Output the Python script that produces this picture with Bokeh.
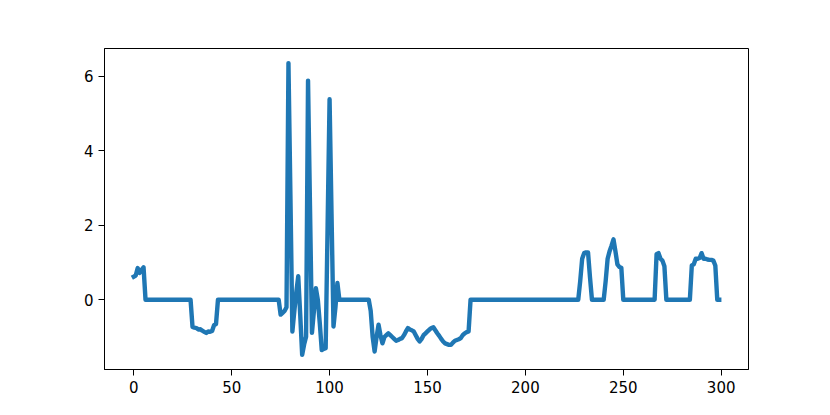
import numpy as np
from bokeh.plotting import figure
from bokeh.models import Range1d, FixedTicker
from bokeh.embed import file_html
from bokeh.resources import INLINE

# series values, one per x index 0..299
seg_start = [0.62, 0.65, 0.85, 0.72, 0.80, 0.87]
seg_dip1 = [-0.73, -0.75, -0.76, -0.80, -0.79, -0.83, -0.86, -0.89, -0.85, -0.86, -0.84, -0.68, -0.65]
seg_spikes = [-0.40, -0.35, -0.30, -0.20, 6.35, 2.80, -0.85, -0.30, 0.20, 0.63,
              -0.40, -1.48, -1.20, -0.99, 5.88, 2.50, -0.89, -0.30, 0.31, 0.00,
              -0.63, -1.35, -1.32, -1.30, 2.00, 5.38, 2.30, -0.72, -0.20, 0.45]
seg_dip2 = [-0.30, -1.00, -1.39, -1.00, -0.67, -0.95, -1.17, -1.00, -0.95, -0.90,
            -0.95, -1.00, -1.05, -1.10, -1.08, -1.05, -1.03, -0.95, -0.85, -0.76,
            -0.80, -0.82, -0.85, -0.95, -1.05, -1.12, -1.05, -0.95, -0.90, -0.85,
            -0.80, -0.76, -0.74, -0.82, -0.90, -0.97, -1.05, -1.12, -1.17, -1.19,
            -1.21, -1.21, -1.15, -1.10, -1.08, -1.06, -1.03, -0.95, -0.90, -0.87, -0.85]
seg_bump1 = [0.50, 1.10, 1.25, 1.27, 1.27, 0.60]
seg_bump2 = [0.50, 1.10, 1.30, 1.45, 1.62, 1.30, 0.95, 0.88, 0.86]
seg_bump3 = [1.22, 1.25, 1.10, 1.05, 0.90]
seg_bump4 = [0.92, 0.95, 1.10, 1.10, 1.12, 1.25, 1.10, 1.10, 1.08, 1.07, 1.07, 1.05, 0.92, 0.00, 0.00]

values = (seg_start + [0.0] * 24 + seg_dip1 + [0.0] * 32 + seg_spikes + [0.0] * 16
          + seg_dip2 + [0.0] * 56 + seg_bump1 + [0.0] * 7 + seg_bump2 + [0.0] * 17
          + seg_bump3 + [0.0] * 13 + seg_bump4)
x_vals = list(range(len(values)))

x_ticks = [0, 50, 100, 150, 200, 250, 300]
y_ticks = [0, 2, 4, 6]

xmin, xmax = min(x_vals), max(x_vals)
ymin, ymax = min(values), max(values)
mx = 0.05 * (xmax - xmin)
my = 0.05 * (ymax - ymin)

p = figure(width=814, height=399, output_backend="svg", toolbar_location=None,
           x_range=Range1d(xmin - mx, xmax + mx), y_range=Range1d(ymin - my, ymax + my))
p.min_border_left = 104
p.min_border_right = 66
p.min_border_top = 48
p.min_border_bottom = 30
p.background_fill_color = "white"
p.border_fill_color = "white"
p.outline_line_color = "black"
p.outline_line_width = 1
p.xgrid.visible = False
p.ygrid.visible = False

p.line(x_vals, values, line_color="#1f77b4", line_width=4.4, line_join="round", line_cap="square")

for ax, ticks in ((p.xaxis[0], x_ticks), (p.yaxis[0], y_ticks)):
    ax.ticker = FixedTicker(ticks=ticks)
    ax.minor_tick_line_color = None
    ax.major_tick_in = 0
    ax.major_tick_out = 6
    ax.major_tick_line_color = "black"
    ax.axis_line_color = "black"
    ax.major_label_text_font = "DejaVu Sans"
    ax.major_label_text_font_size = "15px"
    ax.major_label_text_color = "black"
    ax.major_label_standoff = 5

open("out.html", "w").write(file_html(p, INLINE))
